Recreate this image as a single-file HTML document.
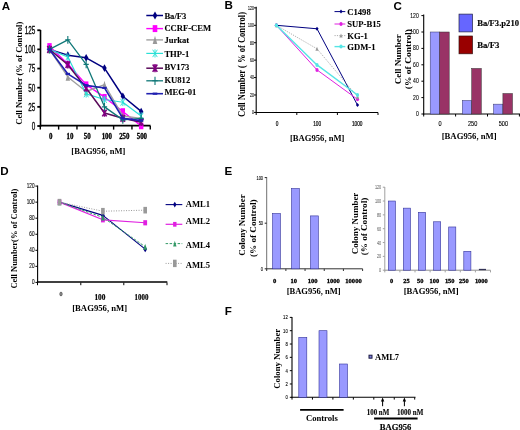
<!DOCTYPE html>
<html><head><meta charset="utf-8"><style>
html,body{margin:0;padding:0;background:#fff;}
svg{display:block;will-change:transform;filter:blur(0.35px);}
</style></head><body>
<svg width="520" height="430" viewBox="0 0 520 430">
<rect width="520" height="430" fill="#fff"/>
<text x="1.8" y="9.8" font-family="'Liberation Sans', sans-serif" font-size="11.6" font-weight="bold" text-anchor="start" fill="#000" >A</text>
<line x1="40.5" y1="30" x2="40.5" y2="127" stroke="#000" stroke-width="1.6" stroke-linecap="butt"/>
<line x1="37.3" y1="126.0" x2="40.5" y2="126.0" stroke="#000" stroke-width="1.8" stroke-linecap="butt"/>
<text x="35.4" y="129.9" font-family="'Liberation Sans', sans-serif" font-size="11.2" font-weight="normal" text-anchor="end" fill="#000" textLength="3.55" lengthAdjust="spacingAndGlyphs"  stroke="#000" stroke-width="0.3">0</text>
<line x1="37.3" y1="106.85" x2="40.5" y2="106.85" stroke="#000" stroke-width="1.8" stroke-linecap="butt"/>
<text x="35.4" y="110.75" font-family="'Liberation Sans', sans-serif" font-size="11.2" font-weight="normal" text-anchor="end" fill="#000" textLength="7.1" lengthAdjust="spacingAndGlyphs"  stroke="#000" stroke-width="0.3">25</text>
<line x1="37.3" y1="87.7" x2="40.5" y2="87.7" stroke="#000" stroke-width="1.8" stroke-linecap="butt"/>
<text x="35.4" y="91.60000000000001" font-family="'Liberation Sans', sans-serif" font-size="11.2" font-weight="normal" text-anchor="end" fill="#000" textLength="7.1" lengthAdjust="spacingAndGlyphs"  stroke="#000" stroke-width="0.3">50</text>
<line x1="37.3" y1="68.55" x2="40.5" y2="68.55" stroke="#000" stroke-width="1.8" stroke-linecap="butt"/>
<text x="35.4" y="72.45" font-family="'Liberation Sans', sans-serif" font-size="11.2" font-weight="normal" text-anchor="end" fill="#000" textLength="7.1" lengthAdjust="spacingAndGlyphs"  stroke="#000" stroke-width="0.3">75</text>
<line x1="37.3" y1="49.400000000000006" x2="40.5" y2="49.400000000000006" stroke="#000" stroke-width="1.8" stroke-linecap="butt"/>
<text x="35.4" y="53.300000000000004" font-family="'Liberation Sans', sans-serif" font-size="11.2" font-weight="normal" text-anchor="end" fill="#000" textLength="10.649999999999999" lengthAdjust="spacingAndGlyphs"  stroke="#000" stroke-width="0.3">100</text>
<line x1="37.3" y1="30.25" x2="40.5" y2="30.25" stroke="#000" stroke-width="1.8" stroke-linecap="butt"/>
<text x="35.4" y="34.15" font-family="'Liberation Sans', sans-serif" font-size="11.2" font-weight="normal" text-anchor="end" fill="#000" textLength="10.649999999999999" lengthAdjust="spacingAndGlyphs"  stroke="#000" stroke-width="0.3">125</text>
<line x1="40" y1="125.7" x2="150.6" y2="125.7" stroke="#000" stroke-width="1.8" stroke-linecap="butt"/>
<line x1="40.3" y1="126.0" x2="40.3" y2="129.6" stroke="#000" stroke-width="1.4" stroke-linecap="butt"/>
<line x1="58.629999999999995" y1="126.0" x2="58.629999999999995" y2="129.6" stroke="#000" stroke-width="1.4" stroke-linecap="butt"/>
<line x1="76.96" y1="126.0" x2="76.96" y2="129.6" stroke="#000" stroke-width="1.4" stroke-linecap="butt"/>
<line x1="95.28999999999999" y1="126.0" x2="95.28999999999999" y2="129.6" stroke="#000" stroke-width="1.4" stroke-linecap="butt"/>
<line x1="113.61999999999999" y1="126.0" x2="113.61999999999999" y2="129.6" stroke="#000" stroke-width="1.4" stroke-linecap="butt"/>
<line x1="131.95" y1="126.0" x2="131.95" y2="129.6" stroke="#000" stroke-width="1.4" stroke-linecap="butt"/>
<line x1="150.27999999999997" y1="126.0" x2="150.27999999999997" y2="129.6" stroke="#000" stroke-width="1.4" stroke-linecap="butt"/>
<text x="50.6" y="138.9" font-family="'Liberation Serif', serif" font-size="7.6" font-weight="bold" text-anchor="middle" fill="#000" textLength="3.45" lengthAdjust="spacingAndGlyphs"  stroke="#000" stroke-width="0.3">0</text>
<text x="70.0" y="138.9" font-family="'Liberation Serif', serif" font-size="7.6" font-weight="bold" text-anchor="middle" fill="#000" textLength="6.9" lengthAdjust="spacingAndGlyphs"  stroke="#000" stroke-width="0.3">10</text>
<text x="87.3" y="138.9" font-family="'Liberation Serif', serif" font-size="7.6" font-weight="bold" text-anchor="middle" fill="#000" textLength="6.9" lengthAdjust="spacingAndGlyphs"  stroke="#000" stroke-width="0.3">50</text>
<text x="106.8" y="138.9" font-family="'Liberation Serif', serif" font-size="7.6" font-weight="bold" text-anchor="middle" fill="#000" textLength="10.350000000000001" lengthAdjust="spacingAndGlyphs"  stroke="#000" stroke-width="0.3">100</text>
<text x="124.3" y="138.9" font-family="'Liberation Serif', serif" font-size="7.6" font-weight="bold" text-anchor="middle" fill="#000" textLength="10.350000000000001" lengthAdjust="spacingAndGlyphs"  stroke="#000" stroke-width="0.3">250</text>
<text x="141.9" y="138.9" font-family="'Liberation Serif', serif" font-size="7.6" font-weight="bold" text-anchor="middle" fill="#000" textLength="10.350000000000001" lengthAdjust="spacingAndGlyphs"  stroke="#000" stroke-width="0.3">500</text>
<text x="98.3" y="154.0" font-family="'Liberation Serif', serif" font-size="8.6" font-weight="bold" text-anchor="middle" fill="#000" textLength="54" lengthAdjust="spacingAndGlyphs" >[BAG956, nM]</text>
<text x="22.2" y="73.2" font-family="'Liberation Serif', serif" font-size="8.7" font-weight="bold" text-anchor="middle" fill="#000" transform="rotate(-90 22.2 73.2)" textLength="103" lengthAdjust="spacingAndGlyphs" >Cell Number (% of Control)</text>
<polyline points="49.50,49.40 67.83,55.14 86.16,57.83 104.49,68.09 122.82,96.28 141.15,111.45" fill="none" stroke="#000080" stroke-width="1.5" stroke-linejoin="round"/>
<path d="M49.5 45.60 L51.70 49.400000000000006 L49.5 53.20 L47.30 49.400000000000006 Z" fill="#000080"/>
<path d="M67.83 51.34 L70.03 55.144999999999996 L67.83 58.94 L65.63 55.144999999999996 Z" fill="#000080"/>
<path d="M86.16 54.03 L88.36 57.82599999999999 L86.16 61.63 L83.96 57.82599999999999 Z" fill="#000080"/>
<path d="M104.49 64.29 L106.69 68.0904 L104.49 71.89 L102.29 68.0904 Z" fill="#000080"/>
<path d="M122.82 92.48 L125.02 96.2792 L122.82 100.08 L120.62 96.2792 Z" fill="#000080"/>
<path d="M141.14999999999998 107.65 L143.35 111.446 L141.14999999999998 115.25 L138.95 111.446 Z" fill="#000080"/>
<polyline points="49.50,46.34 67.83,63.95 86.16,84.64 104.49,97.20 122.82,111.45 141.15,126.00" fill="none" stroke="#FF00FF" stroke-width="1.4" stroke-linejoin="round"/>
<rect x="47.30" y="43.11" width="4.40" height="6.46" fill="#FF00FF"/>
<rect x="65.63" y="60.72" width="4.40" height="6.46" fill="#FF00FF"/>
<rect x="83.96" y="81.41" width="4.40" height="6.46" fill="#FF00FF"/>
<rect x="102.29" y="93.97" width="4.40" height="6.46" fill="#FF00FF"/>
<rect x="120.62" y="108.22" width="4.40" height="6.46" fill="#FF00FF"/>
<rect x="138.95" y="122.77" width="4.40" height="6.46" fill="#FF00FF"/>
<polyline points="49.50,49.40 67.83,76.98 86.16,91.53 104.49,84.64 122.82,116.04 141.15,118.34" fill="none" stroke="#A0A0A0" stroke-width="1.4" stroke-linejoin="round"/>
<path d="M49.5 45.60 L51.70 53.20 L47.30 53.20 Z" fill="#999999"/>
<path d="M67.83 73.18 L70.03 80.78 L65.63 80.78 Z" fill="#999999"/>
<path d="M86.16 87.73 L88.36 95.33 L83.96 95.33 Z" fill="#999999"/>
<path d="M104.49 80.84 L106.69 88.44 L102.29 88.44 Z" fill="#999999"/>
<path d="M122.82 112.24 L125.02 119.84 L120.62 119.84 Z" fill="#999999"/>
<path d="M141.14999999999998 114.54 L143.35 122.14 L138.95 122.14 Z" fill="#999999"/>
<polyline points="49.50,49.40 67.83,57.06 86.16,93.83 104.49,99.50 122.82,102.25 141.15,116.04" fill="none" stroke="#2AE0D6" stroke-width="1.2" stroke-linejoin="round"/>
<path d="M47.30 45.98 L51.70 52.82 M51.70 45.98 L47.30 52.82 M49.5 45.60 L49.5 53.20" stroke="#2AE0D6" stroke-width="0.9" fill="none"/>
<path d="M65.63 53.64 L70.03 60.48 M70.03 53.64 L65.63 60.48 M67.83 53.26 L67.83 60.86" stroke="#2AE0D6" stroke-width="0.9" fill="none"/>
<path d="M83.96 90.41 L88.36 97.25 M88.36 90.41 L83.96 97.25 M86.16 90.03 L86.16 97.63" stroke="#2AE0D6" stroke-width="0.9" fill="none"/>
<path d="M102.29 96.08 L106.69 102.92 M106.69 96.08 L102.29 102.92 M104.49 95.70 L104.49 103.30" stroke="#2AE0D6" stroke-width="0.9" fill="none"/>
<path d="M120.62 98.83 L125.02 105.67 M125.02 98.83 L120.62 105.67 M122.82 98.45 L122.82 106.05" stroke="#2AE0D6" stroke-width="0.9" fill="none"/>
<path d="M138.95 112.62 L143.35 119.46 M143.35 112.62 L138.95 119.46 M141.14999999999998 112.24 L141.14999999999998 119.84" stroke="#2AE0D6" stroke-width="0.9" fill="none"/>
<polyline points="49.50,49.40 67.83,64.72 86.16,88.01 104.49,112.98 122.82,118.34 141.15,122.17" fill="none" stroke="#5A0A5A" stroke-width="1.5" stroke-linejoin="round"/>
<path d="M47.30 45.98 L51.70 52.82 M51.70 45.98 L47.30 52.82 M49.5 45.60 L49.5 53.20" stroke="#800080" stroke-width="1.5" fill="none"/>
<path d="M65.63 61.30 L70.03 68.14 M70.03 61.30 L65.63 68.14 M67.83 60.92 L67.83 68.52" stroke="#800080" stroke-width="1.5" fill="none"/>
<path d="M83.96 84.59 L88.36 91.43 M88.36 84.59 L83.96 91.43 M86.16 84.21 L86.16 91.81" stroke="#800080" stroke-width="1.5" fill="none"/>
<path d="M102.29 109.56 L106.69 116.40 M106.69 109.56 L102.29 116.40 M104.49 109.18 L104.49 116.78" stroke="#800080" stroke-width="1.5" fill="none"/>
<path d="M120.62 114.92 L125.02 121.76 M125.02 114.92 L120.62 121.76 M122.82 114.54 L122.82 122.14" stroke="#800080" stroke-width="1.5" fill="none"/>
<path d="M138.95 118.75 L143.35 125.59 M143.35 118.75 L138.95 125.59 M141.14999999999998 118.37 L141.14999999999998 125.97" stroke="#800080" stroke-width="1.5" fill="none"/>
<polyline points="49.50,49.40 67.83,39.90 86.16,64.34 104.49,106.85 122.82,119.87 141.15,118.34" fill="none" stroke="#107878" stroke-width="1.3" stroke-linejoin="round"/>
<path d="M46.86 49.400000000000006 L52.14 49.400000000000006 M49.5 45.60 L49.5 53.20" stroke="#107878" stroke-width="1.1" fill="none"/>
<path d="M65.19 39.90159999999999 L70.47 39.90159999999999 M67.83 36.10 L67.83 43.70" stroke="#107878" stroke-width="1.1" fill="none"/>
<path d="M83.52 64.33699999999999 L88.80 64.33699999999999 M86.16 60.54 L86.16 68.14" stroke="#107878" stroke-width="1.1" fill="none"/>
<path d="M101.85 106.85 L107.13 106.85 M104.49 103.05 L104.49 110.65" stroke="#107878" stroke-width="1.1" fill="none"/>
<path d="M120.18 119.872 L125.46 119.872 M122.82 116.07 L122.82 123.67" stroke="#107878" stroke-width="1.1" fill="none"/>
<path d="M138.51 118.34 L143.79 118.34 M141.14999999999998 114.54 L141.14999999999998 122.14" stroke="#107878" stroke-width="1.1" fill="none"/>
<polyline points="49.50,49.40 67.83,73.91 86.16,85.40 104.49,87.93 122.82,118.34 141.15,120.64" fill="none" stroke="#2020B0" stroke-width="1.6" stroke-linejoin="round"/>
<path d="M47.30 49.400000000000006 L51.70 49.400000000000006" stroke="#2020B0" stroke-width="2.2" fill="none"/>
<path d="M65.63 73.912 L70.03 73.912" stroke="#2020B0" stroke-width="2.2" fill="none"/>
<path d="M83.96 85.402 L88.36 85.402" stroke="#2020B0" stroke-width="2.2" fill="none"/>
<path d="M102.29 87.9298 L106.69 87.9298" stroke="#2020B0" stroke-width="2.2" fill="none"/>
<path d="M120.62 118.34 L125.02 118.34" stroke="#2020B0" stroke-width="2.2" fill="none"/>
<path d="M138.95 120.638 L143.35 120.638" stroke="#2020B0" stroke-width="2.2" fill="none"/>
<line x1="146.3" y1="15.5" x2="163.0" y2="15.5" stroke="#000080" stroke-width="1.5" stroke-linecap="butt"/>
<path d="M155.0 11.40 L157.30 15.5 L155.0 19.60 L152.70 15.5 Z" fill="#000080"/>
<text x="164.4" y="18.55" font-family="'Liberation Serif', serif" font-size="8.6" font-weight="bold" text-anchor="start" fill="#000"  stroke="#000" stroke-width="0.1">Ba/F3</text>
<line x1="146.3" y1="28.6" x2="163.0" y2="28.6" stroke="#FF00FF" stroke-width="1.4" stroke-linecap="butt"/>
<rect x="152.70" y="25.12" width="4.60" height="6.97" fill="#FF00FF"/>
<text x="164.4" y="31.05" font-family="'Liberation Serif', serif" font-size="8.6" font-weight="bold" text-anchor="start" fill="#000"  stroke="#000" stroke-width="0.1">CCRF-CEM</text>
<line x1="146.3" y1="39.9" x2="163.0" y2="39.9" stroke="#A0A0A0" stroke-width="1.4" stroke-linecap="butt"/>
<path d="M155.0 35.80 L157.30 44.00 L152.70 44.00 Z" fill="#999999"/>
<text x="164.4" y="42.85" font-family="'Liberation Serif', serif" font-size="8.6" font-weight="bold" text-anchor="start" fill="#000"  stroke="#000" stroke-width="0.1">Jurkat</text>
<line x1="146.3" y1="53.4" x2="163.0" y2="53.4" stroke="#2AE0D6" stroke-width="1.2" stroke-linecap="butt"/>
<path d="M152.70 49.71 L157.30 57.09 M157.30 49.71 L152.70 57.09 M155.0 49.30 L155.0 57.50" stroke="#2AE0D6" stroke-width="0.9" fill="none"/>
<text x="164.4" y="56.85" font-family="'Liberation Serif', serif" font-size="8.6" font-weight="bold" text-anchor="start" fill="#000"  stroke="#000" stroke-width="0.1">THP-1</text>
<line x1="146.3" y1="68.2" x2="163.0" y2="68.2" stroke="#5A0A5A" stroke-width="1.5" stroke-linecap="butt"/>
<path d="M152.70 64.51 L157.30 71.89 M157.30 64.51 L152.70 71.89 M155.0 64.10 L155.0 72.30" stroke="#800080" stroke-width="1.5" fill="none"/>
<text x="164.4" y="69.75" font-family="'Liberation Serif', serif" font-size="8.6" font-weight="bold" text-anchor="start" fill="#000"  stroke="#000" stroke-width="0.1">BV173</text>
<line x1="146.3" y1="80.8" x2="163.0" y2="80.8" stroke="#107878" stroke-width="1.3" stroke-linecap="butt"/>
<path d="M152.24 80.8 L157.76 80.8 M155.0 76.70 L155.0 84.90" stroke="#107878" stroke-width="1.1" fill="none"/>
<text x="164.4" y="83.25" font-family="'Liberation Serif', serif" font-size="8.6" font-weight="bold" text-anchor="start" fill="#000"  stroke="#000" stroke-width="0.1">KU812</text>
<line x1="146.3" y1="93.7" x2="163.0" y2="93.7" stroke="#2020B0" stroke-width="1.6" stroke-linecap="butt"/>
<path d="M152.70 93.7 L157.30 93.7" stroke="#2020B0" stroke-width="2.2" fill="none"/>
<text x="164.4" y="94.64999999999999" font-family="'Liberation Serif', serif" font-size="8.6" font-weight="bold" text-anchor="start" fill="#000"  stroke="#000" stroke-width="0.1">MEG-01</text>
<text x="224.4" y="8.9" font-family="'Liberation Sans', sans-serif" font-size="11.6" font-weight="bold" text-anchor="start" fill="#000" >B</text>
<line x1="256.2" y1="6.8" x2="256.2" y2="113.0" stroke="#000" stroke-width="1.1" stroke-linecap="butt"/>
<line x1="254.0" y1="112.4" x2="256.2" y2="112.4" stroke="#000" stroke-width="1" stroke-linecap="butt"/>
<text x="253.8" y="114.2" font-family="'Liberation Sans', sans-serif" font-size="6.2" font-weight="normal" text-anchor="end" fill="#000" textLength="1.9" lengthAdjust="spacingAndGlyphs"  stroke="#000" stroke-width="0.12">0</text>
<line x1="254.0" y1="94.98" x2="256.2" y2="94.98" stroke="#000" stroke-width="1" stroke-linecap="butt"/>
<text x="253.8" y="96.78" font-family="'Liberation Sans', sans-serif" font-size="6.2" font-weight="normal" text-anchor="end" fill="#000" textLength="3.8" lengthAdjust="spacingAndGlyphs"  stroke="#000" stroke-width="0.12">20</text>
<line x1="254.0" y1="77.56" x2="256.2" y2="77.56" stroke="#000" stroke-width="1" stroke-linecap="butt"/>
<text x="253.8" y="79.36" font-family="'Liberation Sans', sans-serif" font-size="6.2" font-weight="normal" text-anchor="end" fill="#000" textLength="3.8" lengthAdjust="spacingAndGlyphs"  stroke="#000" stroke-width="0.12">40</text>
<line x1="254.0" y1="60.14000000000001" x2="256.2" y2="60.14000000000001" stroke="#000" stroke-width="1" stroke-linecap="butt"/>
<text x="253.8" y="61.940000000000005" font-family="'Liberation Sans', sans-serif" font-size="6.2" font-weight="normal" text-anchor="end" fill="#000" textLength="3.8" lengthAdjust="spacingAndGlyphs"  stroke="#000" stroke-width="0.12">60</text>
<line x1="254.0" y1="42.72" x2="256.2" y2="42.72" stroke="#000" stroke-width="1" stroke-linecap="butt"/>
<text x="253.8" y="44.519999999999996" font-family="'Liberation Sans', sans-serif" font-size="6.2" font-weight="normal" text-anchor="end" fill="#000" textLength="3.8" lengthAdjust="spacingAndGlyphs"  stroke="#000" stroke-width="0.12">80</text>
<line x1="254.0" y1="25.30000000000001" x2="256.2" y2="25.30000000000001" stroke="#000" stroke-width="1" stroke-linecap="butt"/>
<text x="253.8" y="27.100000000000012" font-family="'Liberation Sans', sans-serif" font-size="6.2" font-weight="normal" text-anchor="end" fill="#000" textLength="5.699999999999999" lengthAdjust="spacingAndGlyphs"  stroke="#000" stroke-width="0.12">100</text>
<line x1="254.0" y1="7.88000000000001" x2="256.2" y2="7.88000000000001" stroke="#000" stroke-width="1" stroke-linecap="butt"/>
<text x="253.8" y="9.68000000000001" font-family="'Liberation Sans', sans-serif" font-size="6.2" font-weight="normal" text-anchor="end" fill="#000" textLength="5.699999999999999" lengthAdjust="spacingAndGlyphs"  stroke="#000" stroke-width="0.12">120</text>
<line x1="255.7" y1="112.5" x2="378.0" y2="112.5" stroke="#000" stroke-width="1.1" stroke-linecap="butt"/>
<line x1="256.2" y1="112.5" x2="256.2" y2="115.0" stroke="#000" stroke-width="1" stroke-linecap="butt"/>
<line x1="296.8" y1="112.5" x2="296.8" y2="115.0" stroke="#000" stroke-width="1" stroke-linecap="butt"/>
<line x1="337.4" y1="112.5" x2="337.4" y2="115.0" stroke="#000" stroke-width="1" stroke-linecap="butt"/>
<line x1="378.0" y1="112.5" x2="378.0" y2="115.0" stroke="#000" stroke-width="1" stroke-linecap="butt"/>
<text x="277.0" y="126.3" font-family="'Liberation Sans', sans-serif" font-size="6.8" font-weight="normal" text-anchor="middle" fill="#000" textLength="2.65" lengthAdjust="spacingAndGlyphs"  stroke="#000" stroke-width="0.2">0</text>
<text x="317.1" y="126.3" font-family="'Liberation Sans', sans-serif" font-size="6.8" font-weight="normal" text-anchor="middle" fill="#000" textLength="7.949999999999999" lengthAdjust="spacingAndGlyphs"  stroke="#000" stroke-width="0.2">100</text>
<text x="357.2" y="126.3" font-family="'Liberation Sans', sans-serif" font-size="6.8" font-weight="normal" text-anchor="middle" fill="#000" textLength="10.6" lengthAdjust="spacingAndGlyphs"  stroke="#000" stroke-width="0.2">1000</text>
<text x="317.25" y="140.9" font-family="'Liberation Serif', serif" font-size="8.6" font-weight="bold" text-anchor="middle" fill="#000" textLength="54.5" lengthAdjust="spacingAndGlyphs" >[BAG956, nM]</text>
<text x="245.2" y="64.5" font-family="'Liberation Serif', serif" font-size="9.4" font-weight="bold" text-anchor="middle" fill="#000" transform="rotate(-90 245.2 64.5)" textLength="105" lengthAdjust="spacingAndGlyphs" >Cell Number ( % of Control)</text>
<polyline points="276.40,25.30 317.00,28.78 357.50,105.08" fill="none" stroke="#000080" stroke-width="1.0" stroke-linejoin="round"/>
<path d="M276.4 23.30 L278.00 25.30000000000001 L276.4 27.30 L274.80 25.30000000000001 Z" fill="#000080"/>
<path d="M317.0 26.78 L318.60 28.784000000000006 L317.0 30.78 L315.40 28.784000000000006 Z" fill="#000080"/>
<path d="M357.5 103.08 L359.10 105.0836 L357.5 107.08 L355.90 105.0836 Z" fill="#000080"/>
<polyline points="276.40,25.30 317.00,69.90 357.50,99.34" fill="none" stroke="#E020E0" stroke-width="1.0" stroke-linejoin="round"/>
<ellipse cx="276.4" cy="25.30000000000001" rx="1.6" ry="2.0" fill="#E020E0"/>
<ellipse cx="317.0" cy="69.89520000000002" rx="1.6" ry="2.0" fill="#E020E0"/>
<ellipse cx="357.5" cy="99.33500000000001" rx="1.6" ry="2.0" fill="#E020E0"/>
<polyline points="276.40,25.30 317.00,48.82 357.50,96.72" fill="none" stroke="#999999" stroke-width="0.8" stroke-linejoin="round" stroke-dasharray="1.2,1.2"/>
<path d="M276.4 23.30 L278.00 27.30 L274.80 27.30 Z" fill="#999999"/>
<path d="M317.0 46.82 L318.60 50.82 L315.40 50.82 Z" fill="#999999"/>
<path d="M357.5 94.72 L359.10 98.72 L355.90 98.72 Z" fill="#999999"/>
<polyline points="276.40,25.30 317.00,64.93 357.50,94.98" fill="none" stroke="#55E5E5" stroke-width="1.4" stroke-linejoin="round"/>
<ellipse cx="276.4" cy="25.30000000000001" rx="1.6" ry="2.0" fill="#55E5E5"/>
<ellipse cx="317.0" cy="64.93050000000001" rx="1.6" ry="2.0" fill="#55E5E5"/>
<ellipse cx="357.5" cy="94.98" rx="1.6" ry="2.0" fill="#55E5E5"/>
<line x1="334.5" y1="11.6" x2="345.3" y2="11.6" stroke="#000080" stroke-width="1.0" stroke-linecap="butt"/>
<path d="M341.0 9.60 L342.60 11.6 L341.0 13.60 L339.40 11.6 Z" fill="#000080"/>
<text x="347.3" y="14.6" font-family="'Liberation Serif', serif" font-size="8.6" font-weight="bold" text-anchor="start" fill="#000"  stroke="#000" stroke-width="0.1">C1498</text>
<line x1="334.5" y1="24.0" x2="345.3" y2="24.0" stroke="#E020E0" stroke-width="1.0" stroke-linecap="butt"/>
<ellipse cx="341.0" cy="24.0" rx="1.6" ry="2.0" fill="#E020E0"/>
<text x="347.3" y="27.0" font-family="'Liberation Serif', serif" font-size="8.6" font-weight="bold" text-anchor="start" fill="#000"  stroke="#000" stroke-width="0.1">SUP-B15</text>
<line x1="334.5" y1="35.6" x2="345.3" y2="35.6" stroke="#999999" stroke-width="0.8" stroke-dasharray="1.2,1.2" stroke-linecap="butt"/>
<path d="M341.0 33.60 L342.60 37.60 L339.40 37.60 Z" fill="#999999"/>
<text x="347.3" y="38.6" font-family="'Liberation Serif', serif" font-size="8.6" font-weight="bold" text-anchor="start" fill="#000"  stroke="#000" stroke-width="0.1">KG-1</text>
<line x1="334.5" y1="46.6" x2="345.3" y2="46.6" stroke="#55E5E5" stroke-width="1.4" stroke-linecap="butt"/>
<ellipse cx="341.0" cy="46.6" rx="1.6" ry="2.0" fill="#55E5E5"/>
<text x="347.3" y="49.6" font-family="'Liberation Serif', serif" font-size="8.6" font-weight="bold" text-anchor="start" fill="#000"  stroke="#000" stroke-width="0.1">GDM-1</text>
<text x="393.6" y="9.7" font-family="'Liberation Sans', sans-serif" font-size="11.6" font-weight="bold" text-anchor="start" fill="#000" >C</text>
<line x1="423.7" y1="14.5" x2="423.7" y2="114.5" stroke="#000" stroke-width="1.1" stroke-linecap="butt"/>
<line x1="421.4" y1="114.0" x2="423.7" y2="114.0" stroke="#000" stroke-width="1" stroke-linecap="butt"/>
<text x="418.7" y="116.0" font-family="'Liberation Sans', sans-serif" font-size="6.5" font-weight="normal" text-anchor="end" fill="#000" textLength="2.8" lengthAdjust="spacingAndGlyphs"  stroke="#000" stroke-width="0.1">0</text>
<line x1="421.4" y1="97.6" x2="423.7" y2="97.6" stroke="#000" stroke-width="1" stroke-linecap="butt"/>
<text x="418.7" y="99.6" font-family="'Liberation Sans', sans-serif" font-size="6.5" font-weight="normal" text-anchor="end" fill="#000" textLength="5.6" lengthAdjust="spacingAndGlyphs"  stroke="#000" stroke-width="0.1">20</text>
<line x1="421.4" y1="81.2" x2="423.7" y2="81.2" stroke="#000" stroke-width="1" stroke-linecap="butt"/>
<text x="418.7" y="83.2" font-family="'Liberation Sans', sans-serif" font-size="6.5" font-weight="normal" text-anchor="end" fill="#000" textLength="5.6" lengthAdjust="spacingAndGlyphs"  stroke="#000" stroke-width="0.1">40</text>
<line x1="421.4" y1="64.80000000000001" x2="423.7" y2="64.80000000000001" stroke="#000" stroke-width="1" stroke-linecap="butt"/>
<text x="418.7" y="66.80000000000001" font-family="'Liberation Sans', sans-serif" font-size="6.5" font-weight="normal" text-anchor="end" fill="#000" textLength="5.6" lengthAdjust="spacingAndGlyphs"  stroke="#000" stroke-width="0.1">60</text>
<line x1="421.4" y1="48.400000000000006" x2="423.7" y2="48.400000000000006" stroke="#000" stroke-width="1" stroke-linecap="butt"/>
<text x="418.7" y="50.400000000000006" font-family="'Liberation Sans', sans-serif" font-size="6.5" font-weight="normal" text-anchor="end" fill="#000" textLength="5.6" lengthAdjust="spacingAndGlyphs"  stroke="#000" stroke-width="0.1">80</text>
<line x1="421.4" y1="32.0" x2="423.7" y2="32.0" stroke="#000" stroke-width="1" stroke-linecap="butt"/>
<text x="418.7" y="34.0" font-family="'Liberation Sans', sans-serif" font-size="6.5" font-weight="normal" text-anchor="end" fill="#000" textLength="8.399999999999999" lengthAdjust="spacingAndGlyphs"  stroke="#000" stroke-width="0.1">100</text>
<line x1="421.4" y1="15.600000000000009" x2="423.7" y2="15.600000000000009" stroke="#000" stroke-width="1" stroke-linecap="butt"/>
<text x="418.7" y="17.60000000000001" font-family="'Liberation Sans', sans-serif" font-size="6.5" font-weight="normal" text-anchor="end" fill="#000" textLength="8.399999999999999" lengthAdjust="spacingAndGlyphs"  stroke="#000" stroke-width="0.1">120</text>
<line x1="423" y1="114.0" x2="520" y2="114.0" stroke="#000" stroke-width="1.1" stroke-linecap="butt"/>
<line x1="423.7" y1="114" x2="423.7" y2="116.5" stroke="#000" stroke-width="1" stroke-linecap="butt"/>
<line x1="455.59999999999997" y1="114" x2="455.59999999999997" y2="116.5" stroke="#000" stroke-width="1" stroke-linecap="butt"/>
<line x1="487.5" y1="114" x2="487.5" y2="116.5" stroke="#000" stroke-width="1" stroke-linecap="butt"/>
<line x1="519.4" y1="114" x2="519.4" y2="116.5" stroke="#000" stroke-width="1" stroke-linecap="butt"/>
<rect x="430.20" y="32.00" width="9.40" height="82.00" fill="#9999FF" stroke="#333366" stroke-width="0.5"/>
<rect x="439.60" y="32.00" width="9.60" height="82.00" fill="#993366" stroke="#333333" stroke-width="0.5"/>
<rect x="462.30" y="100.47" width="9.40" height="13.53" fill="#9999FF" stroke="#333366" stroke-width="0.5"/>
<rect x="471.70" y="68.41" width="9.60" height="45.59" fill="#993366" stroke="#333333" stroke-width="0.5"/>
<rect x="493.50" y="104.16" width="9.40" height="9.84" fill="#9999FF" stroke="#333366" stroke-width="0.5"/>
<rect x="502.90" y="93.50" width="9.60" height="20.50" fill="#993366" stroke="#333333" stroke-width="0.5"/>
<text x="440.0" y="126.0" font-family="'Liberation Sans', sans-serif" font-size="6.9" font-weight="normal" text-anchor="middle" fill="#000" textLength="3.1" lengthAdjust="spacingAndGlyphs"  stroke="#000" stroke-width="0.12">0</text>
<text x="472.6" y="126.0" font-family="'Liberation Sans', sans-serif" font-size="6.9" font-weight="normal" text-anchor="middle" fill="#000" textLength="9.3" lengthAdjust="spacingAndGlyphs"  stroke="#000" stroke-width="0.12">250</text>
<text x="503.4" y="126.0" font-family="'Liberation Sans', sans-serif" font-size="6.9" font-weight="normal" text-anchor="middle" fill="#000" textLength="9.3" lengthAdjust="spacingAndGlyphs"  stroke="#000" stroke-width="0.12">500</text>
<text x="469.2" y="138.6" font-family="'Liberation Serif', serif" font-size="8.8" font-weight="bold" text-anchor="middle" fill="#000" textLength="55" lengthAdjust="spacingAndGlyphs" >[BAG956, nM]</text>
<text x="400.6" y="59.2" font-family="'Liberation Serif', serif" font-size="8.8" font-weight="bold" text-anchor="middle" fill="#000" transform="rotate(-90 400.6 59.2)" textLength="50" lengthAdjust="spacingAndGlyphs" >Cell Number</text>
<text x="411.0" y="59.2" font-family="'Liberation Serif', serif" font-size="8.8" font-weight="bold" text-anchor="middle" fill="#000" transform="rotate(-90 411.0 59.2)" textLength="60" lengthAdjust="spacingAndGlyphs" >(% of Control)</text>
<rect x="459.00" y="14.10" width="13.50" height="17.80" fill="#6666FF" stroke="#222244" stroke-width="0.7"/>
<rect x="459.00" y="36.00" width="13.50" height="17.80" fill="#990000" stroke="#331111" stroke-width="0.7"/>
<text x="477.2" y="26.0" font-family="'Liberation Serif', serif" font-size="8.8" font-weight="bold" text-anchor="start" fill="#000" textLength="41.8" lengthAdjust="spacingAndGlyphs"  stroke="#000" stroke-width="0.15">Ba/F3.p210</text>
<text x="477.2" y="47.6" font-family="'Liberation Serif', serif" font-size="8.8" font-weight="bold" text-anchor="start" fill="#000" textLength="22.3" lengthAdjust="spacingAndGlyphs"  stroke="#000" stroke-width="0.15">Ba/F3</text>
<text x="0.2" y="174.6" font-family="'Liberation Sans', sans-serif" font-size="11.6" font-weight="bold" text-anchor="start" fill="#000" >D</text>
<line x1="37.6" y1="185.5" x2="37.6" y2="283" stroke="#000" stroke-width="1.1" stroke-linecap="butt"/>
<line x1="35.4" y1="282.4" x2="37.6" y2="282.4" stroke="#000" stroke-width="1" stroke-linecap="butt"/>
<text x="34.5" y="284.4" font-family="'Liberation Sans', sans-serif" font-size="7.5" font-weight="normal" text-anchor="end" fill="#000" textLength="2.6" lengthAdjust="spacingAndGlyphs"  stroke="#000" stroke-width="0.12">0</text>
<line x1="35.4" y1="266.34999999999997" x2="37.6" y2="266.34999999999997" stroke="#000" stroke-width="1" stroke-linecap="butt"/>
<text x="34.5" y="268.34999999999997" font-family="'Liberation Sans', sans-serif" font-size="7.5" font-weight="normal" text-anchor="end" fill="#000" textLength="5.2" lengthAdjust="spacingAndGlyphs"  stroke="#000" stroke-width="0.12">20</text>
<line x1="35.4" y1="250.29999999999998" x2="37.6" y2="250.29999999999998" stroke="#000" stroke-width="1" stroke-linecap="butt"/>
<text x="34.5" y="252.29999999999998" font-family="'Liberation Sans', sans-serif" font-size="7.5" font-weight="normal" text-anchor="end" fill="#000" textLength="5.2" lengthAdjust="spacingAndGlyphs"  stroke="#000" stroke-width="0.12">40</text>
<line x1="35.4" y1="234.24999999999997" x2="37.6" y2="234.24999999999997" stroke="#000" stroke-width="1" stroke-linecap="butt"/>
<text x="34.5" y="236.24999999999997" font-family="'Liberation Sans', sans-serif" font-size="7.5" font-weight="normal" text-anchor="end" fill="#000" textLength="5.2" lengthAdjust="spacingAndGlyphs"  stroke="#000" stroke-width="0.12">60</text>
<line x1="35.4" y1="218.2" x2="37.6" y2="218.2" stroke="#000" stroke-width="1" stroke-linecap="butt"/>
<text x="34.5" y="220.2" font-family="'Liberation Sans', sans-serif" font-size="7.5" font-weight="normal" text-anchor="end" fill="#000" textLength="5.2" lengthAdjust="spacingAndGlyphs"  stroke="#000" stroke-width="0.12">80</text>
<line x1="35.4" y1="202.14999999999998" x2="37.6" y2="202.14999999999998" stroke="#000" stroke-width="1" stroke-linecap="butt"/>
<text x="34.5" y="204.14999999999998" font-family="'Liberation Sans', sans-serif" font-size="7.5" font-weight="normal" text-anchor="end" fill="#000" textLength="7.800000000000001" lengthAdjust="spacingAndGlyphs"  stroke="#000" stroke-width="0.12">100</text>
<line x1="35.4" y1="186.09999999999997" x2="37.6" y2="186.09999999999997" stroke="#000" stroke-width="1" stroke-linecap="butt"/>
<text x="34.5" y="188.09999999999997" font-family="'Liberation Sans', sans-serif" font-size="7.5" font-weight="normal" text-anchor="end" fill="#000" textLength="7.800000000000001" lengthAdjust="spacingAndGlyphs"  stroke="#000" stroke-width="0.12">120</text>
<line x1="37" y1="282.1" x2="167.3" y2="282.1" stroke="#000" stroke-width="1.5" stroke-linecap="butt"/>
<line x1="37.5" y1="282.6" x2="37.5" y2="285.2" stroke="#000" stroke-width="1" stroke-linecap="butt"/>
<line x1="80.8" y1="282.6" x2="80.8" y2="285.2" stroke="#000" stroke-width="1" stroke-linecap="butt"/>
<line x1="123.8" y1="282.6" x2="123.8" y2="285.2" stroke="#000" stroke-width="1" stroke-linecap="butt"/>
<line x1="167.0" y1="282.6" x2="167.0" y2="285.2" stroke="#000" stroke-width="1" stroke-linecap="butt"/>
<text x="60.9" y="295.6" font-family="'Liberation Serif', serif" font-size="5.2" font-weight="bold" text-anchor="middle" fill="#555" textLength="3.0" lengthAdjust="spacingAndGlyphs"  stroke="#555" stroke-width="0.3">0</text>
<text x="99.9" y="299.9" font-family="'Liberation Serif', serif" font-size="7.2" font-weight="bold" text-anchor="middle" fill="#000" textLength="11" lengthAdjust="spacingAndGlyphs"  stroke="#000" stroke-width="0.2">100</text>
<text x="141.5" y="299.9" font-family="'Liberation Serif', serif" font-size="7.2" font-weight="bold" text-anchor="middle" fill="#000" textLength="13.8" lengthAdjust="spacingAndGlyphs"  stroke="#000" stroke-width="0.2">1000</text>
<text x="99.7" y="311.0" font-family="'Liberation Serif', serif" font-size="8.6" font-weight="bold" text-anchor="middle" fill="#000" textLength="55" lengthAdjust="spacingAndGlyphs" >[BAG956, nM]</text>
<text x="17.0" y="238.6" font-family="'Liberation Serif', serif" font-size="8.8" font-weight="bold" text-anchor="middle" fill="#000" transform="rotate(-90 17.0 238.6)" textLength="100" lengthAdjust="spacingAndGlyphs" >Cell Number(% of Control)</text>
<polyline points="59.50,202.15 102.90,215.39 145.20,249.18" fill="none" stroke="#000080" stroke-width="1.1" stroke-linejoin="round"/>
<path d="M59.5 199.11 L61.40 202.14999999999998 L59.5 205.19 L57.60 202.14999999999998 Z" fill="#000080"/>
<path d="M102.9 212.35 L104.80 215.39124999999996 L102.9 218.43 L101.00 215.39124999999996 Z" fill="#000080"/>
<path d="M145.2 246.14 L147.10 249.17649999999998 L145.2 252.22 L143.30 249.17649999999998 Z" fill="#000080"/>
<polyline points="59.50,202.15 102.90,219.80 145.20,222.77" fill="none" stroke="#E020E0" stroke-width="1.2" stroke-linejoin="round"/>
<rect x="57.60" y="199.57" width="3.80" height="5.17" fill="#E020E0"/>
<rect x="101.00" y="217.22" width="3.80" height="5.17" fill="#E020E0"/>
<rect x="143.30" y="220.19" width="3.80" height="5.17" fill="#E020E0"/>
<polyline points="59.50,202.15 102.90,217.40 145.20,246.69" fill="none" stroke="#339966" stroke-width="1.0" stroke-linejoin="round" stroke-dasharray="2.5,1.5"/>
<path d="M59.5 199.11 L61.40 205.19 L57.60 205.19 Z" fill="#339966"/>
<path d="M102.9 214.36 L104.80 220.44 L101.00 220.44 Z" fill="#339966"/>
<path d="M145.2 243.65 L147.10 249.73 L143.30 249.73 Z" fill="#339966"/>
<polyline points="59.50,202.15 102.90,211.22 145.20,210.17" fill="none" stroke="#999999" stroke-width="1.0" stroke-linejoin="round" stroke-dasharray="1,1.5"/>
<rect x="57.70" y="198.85" width="3.60" height="6.60" fill="#999999"/>
<rect x="101.10" y="207.92" width="3.60" height="6.60" fill="#999999"/>
<rect x="143.40" y="206.87" width="3.60" height="6.60" fill="#999999"/>
<line x1="165.6" y1="204.6" x2="182.3" y2="204.6" stroke="#000080" stroke-width="1.1" stroke-linecap="butt"/>
<path d="M174.8 201.80 L176.50 204.6 L174.8 207.40 L173.10 204.6 Z" fill="#000080"/>
<text x="185.7" y="206.9" font-family="'Liberation Serif', serif" font-size="8.3" font-weight="bold" text-anchor="start" fill="#000" textLength="24.3" lengthAdjust="spacingAndGlyphs" >AML1</text>
<line x1="165.6" y1="224.3" x2="182.3" y2="224.3" stroke="#E020E0" stroke-width="1.2" stroke-linecap="butt"/>
<rect x="173.10" y="221.92" width="3.40" height="4.76" fill="#E020E0"/>
<text x="185.7" y="224.0" font-family="'Liberation Serif', serif" font-size="8.3" font-weight="bold" text-anchor="start" fill="#000" textLength="24.3" lengthAdjust="spacingAndGlyphs" >AML2</text>
<line x1="165.6" y1="243.6" x2="182.3" y2="243.6" stroke="#339966" stroke-width="1.0" stroke-dasharray="2.5,1.5" stroke-linecap="butt"/>
<path d="M174.8 240.80 L176.50 246.40 L173.10 246.40 Z" fill="#339966"/>
<text x="185.7" y="247.6" font-family="'Liberation Serif', serif" font-size="8.3" font-weight="bold" text-anchor="start" fill="#000" textLength="24.3" lengthAdjust="spacingAndGlyphs" >AML4</text>
<line x1="165.6" y1="263.4" x2="182.3" y2="263.4" stroke="#999999" stroke-width="1.0" stroke-dasharray="1,1.5" stroke-linecap="butt"/>
<rect x="173.00" y="259.70" width="3.60" height="7.40" fill="#999999"/>
<text x="185.7" y="267.6" font-family="'Liberation Serif', serif" font-size="8.3" font-weight="bold" text-anchor="start" fill="#000" textLength="24.3" lengthAdjust="spacingAndGlyphs" >AML5</text>
<text x="224.4" y="174.9" font-family="'Liberation Sans', sans-serif" font-size="11.6" font-weight="bold" text-anchor="start" fill="#000" >E</text>
<line x1="266.7" y1="177" x2="266.7" y2="269.3" stroke="#707070" stroke-width="1" stroke-linecap="butt"/>
<line x1="264.7" y1="268.8" x2="266.7" y2="268.8" stroke="#222" stroke-width="1" stroke-linecap="butt"/>
<text x="263.1" y="270.8" font-family="'Liberation Sans', sans-serif" font-size="6.0" font-weight="normal" text-anchor="end" fill="#000" textLength="2.23" lengthAdjust="spacingAndGlyphs"  stroke="#000" stroke-width="0.1">0</text>
<line x1="264.7" y1="223.20000000000002" x2="266.7" y2="223.20000000000002" stroke="#222" stroke-width="1" stroke-linecap="butt"/>
<text x="263.1" y="225.20000000000002" font-family="'Liberation Sans', sans-serif" font-size="6.0" font-weight="normal" text-anchor="end" fill="#000" textLength="4.46" lengthAdjust="spacingAndGlyphs"  stroke="#000" stroke-width="0.1">50</text>
<line x1="264.7" y1="177.60000000000002" x2="266.7" y2="177.60000000000002" stroke="#222" stroke-width="1" stroke-linecap="butt"/>
<text x="263.1" y="179.60000000000002" font-family="'Liberation Sans', sans-serif" font-size="6.0" font-weight="normal" text-anchor="end" fill="#000" textLength="6.6899999999999995" lengthAdjust="spacingAndGlyphs"  stroke="#000" stroke-width="0.1">100</text>
<line x1="266.5" y1="268.8" x2="362.6" y2="268.8" stroke="#333" stroke-width="1" stroke-linecap="butt"/>
<line x1="266.7" y1="268.8" x2="266.7" y2="271.0" stroke="#333" stroke-width="1" stroke-linecap="butt"/>
<line x1="285.88" y1="268.8" x2="285.88" y2="271.0" stroke="#333" stroke-width="1" stroke-linecap="butt"/>
<line x1="305.06" y1="268.8" x2="305.06" y2="271.0" stroke="#333" stroke-width="1" stroke-linecap="butt"/>
<line x1="324.24" y1="268.8" x2="324.24" y2="271.0" stroke="#333" stroke-width="1" stroke-linecap="butt"/>
<line x1="343.41999999999996" y1="268.8" x2="343.41999999999996" y2="271.0" stroke="#333" stroke-width="1" stroke-linecap="butt"/>
<line x1="362.6" y1="268.8" x2="362.6" y2="271.0" stroke="#333" stroke-width="1" stroke-linecap="butt"/>
<rect x="272.60" y="213.53" width="7.80" height="55.27" fill="#9999FF" stroke="#333399" stroke-width="0.6"/>
<rect x="291.50" y="188.54" width="7.80" height="80.26" fill="#9999FF" stroke="#333399" stroke-width="0.6"/>
<rect x="310.50" y="215.90" width="7.80" height="52.90" fill="#9999FF" stroke="#333399" stroke-width="0.6"/>
<text x="274.6" y="283.3" font-family="'Liberation Serif', serif" font-size="6.8" font-weight="bold" text-anchor="middle" fill="#000" textLength="3.3" lengthAdjust="spacingAndGlyphs"  stroke="#000" stroke-width="0.3">0</text>
<text x="293.8" y="283.3" font-family="'Liberation Serif', serif" font-size="6.8" font-weight="bold" text-anchor="middle" fill="#000" textLength="6.6" lengthAdjust="spacingAndGlyphs"  stroke="#000" stroke-width="0.3">10</text>
<text x="312.6" y="283.3" font-family="'Liberation Serif', serif" font-size="6.8" font-weight="bold" text-anchor="middle" fill="#000" textLength="9.899999999999999" lengthAdjust="spacingAndGlyphs"  stroke="#000" stroke-width="0.3">100</text>
<text x="333.3" y="283.3" font-family="'Liberation Serif', serif" font-size="6.8" font-weight="bold" text-anchor="middle" fill="#000" textLength="13.2" lengthAdjust="spacingAndGlyphs"  stroke="#000" stroke-width="0.3">1000</text>
<text x="353.5" y="283.3" font-family="'Liberation Serif', serif" font-size="6.8" font-weight="bold" text-anchor="middle" fill="#000" textLength="16.5" lengthAdjust="spacingAndGlyphs"  stroke="#000" stroke-width="0.3">10000</text>
<text x="313.7" y="293.8" font-family="'Liberation Serif', serif" font-size="8.6" font-weight="bold" text-anchor="middle" fill="#000" textLength="54" lengthAdjust="spacingAndGlyphs" >[BAG956, nM]</text>
<text x="245.4" y="225.0" font-family="'Liberation Serif', serif" font-size="8.8" font-weight="bold" text-anchor="middle" fill="#000" transform="rotate(-90 245.4 225.0)" textLength="61.4" lengthAdjust="spacingAndGlyphs" >Colony Number</text>
<text x="255.7" y="228.2" font-family="'Liberation Serif', serif" font-size="8.8" font-weight="bold" text-anchor="middle" fill="#000" transform="rotate(-90 255.7 228.2)" textLength="57.6" lengthAdjust="spacingAndGlyphs" >(% of Control)</text>
<line x1="384.8" y1="187" x2="384.8" y2="270.7" stroke="#A0A0A0" stroke-width="1" stroke-linecap="butt"/>
<line x1="382.8" y1="270.2" x2="384.8" y2="270.2" stroke="#A0A0A0" stroke-width="1" stroke-linecap="butt"/>
<text x="381.2" y="272.2" font-family="'Liberation Sans', sans-serif" font-size="6.0" font-weight="normal" text-anchor="end" fill="#555" textLength="2.1" lengthAdjust="spacingAndGlyphs" >0</text>
<line x1="382.8" y1="256.366" x2="384.8" y2="256.366" stroke="#A0A0A0" stroke-width="1" stroke-linecap="butt"/>
<text x="381.2" y="258.366" font-family="'Liberation Sans', sans-serif" font-size="6.0" font-weight="normal" text-anchor="end" fill="#555" textLength="4.2" lengthAdjust="spacingAndGlyphs" >20</text>
<line x1="382.8" y1="242.53199999999998" x2="384.8" y2="242.53199999999998" stroke="#A0A0A0" stroke-width="1" stroke-linecap="butt"/>
<text x="381.2" y="244.53199999999998" font-family="'Liberation Sans', sans-serif" font-size="6.0" font-weight="normal" text-anchor="end" fill="#555" textLength="4.2" lengthAdjust="spacingAndGlyphs" >40</text>
<line x1="382.8" y1="228.69799999999998" x2="384.8" y2="228.69799999999998" stroke="#A0A0A0" stroke-width="1" stroke-linecap="butt"/>
<text x="381.2" y="230.69799999999998" font-family="'Liberation Sans', sans-serif" font-size="6.0" font-weight="normal" text-anchor="end" fill="#555" textLength="4.2" lengthAdjust="spacingAndGlyphs" >60</text>
<line x1="382.8" y1="214.86399999999998" x2="384.8" y2="214.86399999999998" stroke="#A0A0A0" stroke-width="1" stroke-linecap="butt"/>
<text x="381.2" y="216.86399999999998" font-family="'Liberation Sans', sans-serif" font-size="6.0" font-weight="normal" text-anchor="end" fill="#555" textLength="4.2" lengthAdjust="spacingAndGlyphs" >80</text>
<line x1="382.8" y1="201.02999999999997" x2="384.8" y2="201.02999999999997" stroke="#A0A0A0" stroke-width="1" stroke-linecap="butt"/>
<text x="381.2" y="203.02999999999997" font-family="'Liberation Sans', sans-serif" font-size="6.0" font-weight="normal" text-anchor="end" fill="#555" textLength="6.300000000000001" lengthAdjust="spacingAndGlyphs" >100</text>
<line x1="382.8" y1="187.196" x2="384.8" y2="187.196" stroke="#A0A0A0" stroke-width="1" stroke-linecap="butt"/>
<text x="381.2" y="189.196" font-family="'Liberation Sans', sans-serif" font-size="6.0" font-weight="normal" text-anchor="end" fill="#555" textLength="6.300000000000001" lengthAdjust="spacingAndGlyphs" >120</text>
<line x1="384.5" y1="270.2" x2="490.5" y2="270.2" stroke="#909090" stroke-width="1" stroke-linecap="butt"/>
<line x1="384.8" y1="270.2" x2="384.8" y2="272.4" stroke="#A0A0A0" stroke-width="1" stroke-linecap="butt"/>
<line x1="399.90000000000003" y1="270.2" x2="399.90000000000003" y2="272.4" stroke="#A0A0A0" stroke-width="1" stroke-linecap="butt"/>
<line x1="415.0" y1="270.2" x2="415.0" y2="272.4" stroke="#A0A0A0" stroke-width="1" stroke-linecap="butt"/>
<line x1="430.1" y1="270.2" x2="430.1" y2="272.4" stroke="#A0A0A0" stroke-width="1" stroke-linecap="butt"/>
<line x1="445.2" y1="270.2" x2="445.2" y2="272.4" stroke="#A0A0A0" stroke-width="1" stroke-linecap="butt"/>
<line x1="460.3" y1="270.2" x2="460.3" y2="272.4" stroke="#A0A0A0" stroke-width="1" stroke-linecap="butt"/>
<line x1="475.4" y1="270.2" x2="475.4" y2="272.4" stroke="#A0A0A0" stroke-width="1" stroke-linecap="butt"/>
<line x1="490.5" y1="270.2" x2="490.5" y2="272.4" stroke="#A0A0A0" stroke-width="1" stroke-linecap="butt"/>
<rect x="388.30" y="201.03" width="7.10" height="69.17" fill="#9999FF" stroke="#333399" stroke-width="0.6"/>
<rect x="403.40" y="208.15" width="7.10" height="62.05" fill="#9999FF" stroke="#333399" stroke-width="0.6"/>
<rect x="418.50" y="212.37" width="7.10" height="57.83" fill="#9999FF" stroke="#333399" stroke-width="0.6"/>
<rect x="433.60" y="221.78" width="7.10" height="48.42" fill="#9999FF" stroke="#333399" stroke-width="0.6"/>
<rect x="448.70" y="226.97" width="7.10" height="43.23" fill="#9999FF" stroke="#333399" stroke-width="0.6"/>
<rect x="463.80" y="251.32" width="7.10" height="18.88" fill="#9999FF" stroke="#333399" stroke-width="0.6"/>
<rect x="478.90" y="268.86" width="7.10" height="1.34" fill="#333355"/>
<text x="391.5" y="283.3" font-family="'Liberation Serif', serif" font-size="6.8" font-weight="bold" text-anchor="middle" fill="#000" textLength="3.2" lengthAdjust="spacingAndGlyphs"  stroke="#000" stroke-width="0.3">0</text>
<text x="406.5" y="283.3" font-family="'Liberation Serif', serif" font-size="6.8" font-weight="bold" text-anchor="middle" fill="#000" textLength="6.4" lengthAdjust="spacingAndGlyphs"  stroke="#000" stroke-width="0.3">25</text>
<text x="420.3" y="283.3" font-family="'Liberation Serif', serif" font-size="6.8" font-weight="bold" text-anchor="middle" fill="#000" textLength="6.4" lengthAdjust="spacingAndGlyphs"  stroke="#000" stroke-width="0.3">50</text>
<text x="434.4" y="283.3" font-family="'Liberation Serif', serif" font-size="6.8" font-weight="bold" text-anchor="middle" fill="#000" textLength="9.600000000000001" lengthAdjust="spacingAndGlyphs"  stroke="#000" stroke-width="0.3">100</text>
<text x="449.7" y="283.3" font-family="'Liberation Serif', serif" font-size="6.8" font-weight="bold" text-anchor="middle" fill="#000" textLength="9.600000000000001" lengthAdjust="spacingAndGlyphs"  stroke="#000" stroke-width="0.3">150</text>
<text x="463.8" y="283.3" font-family="'Liberation Serif', serif" font-size="6.8" font-weight="bold" text-anchor="middle" fill="#000" textLength="9.600000000000001" lengthAdjust="spacingAndGlyphs"  stroke="#000" stroke-width="0.3">250</text>
<text x="481.3" y="283.3" font-family="'Liberation Serif', serif" font-size="6.8" font-weight="bold" text-anchor="middle" fill="#000" textLength="12.8" lengthAdjust="spacingAndGlyphs"  stroke="#000" stroke-width="0.3">1000</text>
<text x="431.2" y="294.0" font-family="'Liberation Serif', serif" font-size="8.6" font-weight="bold" text-anchor="middle" fill="#000" textLength="55" lengthAdjust="spacingAndGlyphs" >[BAG956, nM]</text>
<text x="358.4" y="223.4" font-family="'Liberation Serif', serif" font-size="8.8" font-weight="bold" text-anchor="middle" fill="#000" transform="rotate(-90 358.4 223.4)" textLength="61.5" lengthAdjust="spacingAndGlyphs" >Colony Number</text>
<text x="367.4" y="226.5" font-family="'Liberation Serif', serif" font-size="8.8" font-weight="bold" text-anchor="middle" fill="#000" transform="rotate(-90 367.4 226.5)" textLength="57.5" lengthAdjust="spacingAndGlyphs" >(% of Control)</text>
<text x="224.8" y="314.9" font-family="'Liberation Sans', sans-serif" font-size="11.6" font-weight="bold" text-anchor="start" fill="#000" >F</text>
<line x1="292" y1="317" x2="292" y2="397.7" stroke="#000" stroke-width="1.1" stroke-linecap="butt"/>
<line x1="289.8" y1="397.3" x2="292" y2="397.3" stroke="#000" stroke-width="1" stroke-linecap="butt"/>
<text x="287.8" y="399.3" font-family="'Liberation Sans', sans-serif" font-size="5.6" font-weight="normal" text-anchor="end" fill="#000" textLength="2.35" lengthAdjust="spacingAndGlyphs"  stroke="#000" stroke-width="0.1">0</text>
<line x1="289.8" y1="383.98" x2="292" y2="383.98" stroke="#000" stroke-width="1" stroke-linecap="butt"/>
<text x="287.8" y="385.98" font-family="'Liberation Sans', sans-serif" font-size="5.6" font-weight="normal" text-anchor="end" fill="#000" textLength="2.35" lengthAdjust="spacingAndGlyphs"  stroke="#000" stroke-width="0.1">2</text>
<line x1="289.8" y1="370.66" x2="292" y2="370.66" stroke="#000" stroke-width="1" stroke-linecap="butt"/>
<text x="287.8" y="372.66" font-family="'Liberation Sans', sans-serif" font-size="5.6" font-weight="normal" text-anchor="end" fill="#000" textLength="2.35" lengthAdjust="spacingAndGlyphs"  stroke="#000" stroke-width="0.1">4</text>
<line x1="289.8" y1="357.34000000000003" x2="292" y2="357.34000000000003" stroke="#000" stroke-width="1" stroke-linecap="butt"/>
<text x="287.8" y="359.34000000000003" font-family="'Liberation Sans', sans-serif" font-size="5.6" font-weight="normal" text-anchor="end" fill="#000" textLength="2.35" lengthAdjust="spacingAndGlyphs"  stroke="#000" stroke-width="0.1">6</text>
<line x1="289.8" y1="344.02" x2="292" y2="344.02" stroke="#000" stroke-width="1" stroke-linecap="butt"/>
<text x="287.8" y="346.02" font-family="'Liberation Sans', sans-serif" font-size="5.6" font-weight="normal" text-anchor="end" fill="#000" textLength="2.35" lengthAdjust="spacingAndGlyphs"  stroke="#000" stroke-width="0.1">8</text>
<line x1="289.8" y1="330.70000000000005" x2="292" y2="330.70000000000005" stroke="#000" stroke-width="1" stroke-linecap="butt"/>
<text x="287.8" y="332.70000000000005" font-family="'Liberation Sans', sans-serif" font-size="5.6" font-weight="normal" text-anchor="end" fill="#000" textLength="4.7" lengthAdjust="spacingAndGlyphs"  stroke="#000" stroke-width="0.1">10</text>
<line x1="289.8" y1="317.38" x2="292" y2="317.38" stroke="#000" stroke-width="1" stroke-linecap="butt"/>
<text x="287.8" y="319.38" font-family="'Liberation Sans', sans-serif" font-size="5.6" font-weight="normal" text-anchor="end" fill="#000" textLength="4.7" lengthAdjust="spacingAndGlyphs"  stroke="#000" stroke-width="0.1">12</text>
<line x1="291.5" y1="397.3" x2="415.5" y2="397.3" stroke="#000" stroke-width="1.1" stroke-linecap="butt"/>
<line x1="292.0" y1="397.3" x2="292.0" y2="399.6" stroke="#000" stroke-width="1" stroke-linecap="butt"/>
<line x1="312.45" y1="397.3" x2="312.45" y2="399.6" stroke="#000" stroke-width="1" stroke-linecap="butt"/>
<line x1="332.9" y1="397.3" x2="332.9" y2="399.6" stroke="#000" stroke-width="1" stroke-linecap="butt"/>
<line x1="353.35" y1="397.3" x2="353.35" y2="399.6" stroke="#000" stroke-width="1" stroke-linecap="butt"/>
<line x1="373.8" y1="397.3" x2="373.8" y2="399.6" stroke="#000" stroke-width="1" stroke-linecap="butt"/>
<line x1="394.25" y1="397.3" x2="394.25" y2="399.6" stroke="#000" stroke-width="1" stroke-linecap="butt"/>
<line x1="414.7" y1="397.3" x2="414.7" y2="399.6" stroke="#000" stroke-width="1" stroke-linecap="butt"/>
<rect x="298.80" y="337.36" width="8.00" height="59.94" fill="#9999FF" stroke="#333399" stroke-width="0.6"/>
<rect x="319.00" y="330.70" width="8.00" height="66.60" fill="#9999FF" stroke="#333399" stroke-width="0.6"/>
<rect x="339.50" y="364.00" width="8.00" height="33.30" fill="#9999FF" stroke="#333399" stroke-width="0.6"/>
<rect x="369.00" y="355.20" width="3.00" height="3.00" fill="#8080E0" stroke="#1A1A40" stroke-width="1.0"/>
<text x="375.0" y="359.7" font-family="'Liberation Serif', serif" font-size="8.4" font-weight="bold" text-anchor="start" fill="#000" textLength="24.1" lengthAdjust="spacingAndGlyphs" >AML7</text>
<line x1="382.6" y1="398.8" x2="382.6" y2="406.2" stroke="#000" stroke-width="1" stroke-linecap="butt"/>
<path d="M380.90000000000003 401.6 L382.6 397.4 L384.3 401.6 Z" fill="#000"/>
<line x1="404.4" y1="398.8" x2="404.4" y2="406.2" stroke="#000" stroke-width="1" stroke-linecap="butt"/>
<path d="M402.7 401.6 L404.4 397.4 L406.09999999999997 401.6 Z" fill="#000"/>
<text x="378.0" y="415.3" font-family="'Liberation Serif', serif" font-size="7.4" font-weight="bold" text-anchor="middle" fill="#000" textLength="22.6" lengthAdjust="spacingAndGlyphs"  stroke="#000" stroke-width="0.1">100 nM</text>
<text x="410.2" y="415.3" font-family="'Liberation Serif', serif" font-size="7.4" font-weight="bold" text-anchor="middle" fill="#000" textLength="26.3" lengthAdjust="spacingAndGlyphs"  stroke="#000" stroke-width="0.1">1000 nM</text>
<line x1="300.1" y1="409.9" x2="343.6" y2="409.9" stroke="#000" stroke-width="1.8" stroke-linecap="butt"/>
<line x1="374.1" y1="418.6" x2="417.6" y2="418.6" stroke="#000" stroke-width="2.0" stroke-linecap="butt"/>
<text x="321.9" y="421.0" font-family="'Liberation Serif', serif" font-size="8.6" font-weight="bold" text-anchor="middle" fill="#000" textLength="32" lengthAdjust="spacingAndGlyphs" >Controls</text>
<text x="395.6" y="429.6" font-family="'Liberation Serif', serif" font-size="8.6" font-weight="bold" text-anchor="middle" fill="#000" textLength="31.5" lengthAdjust="spacingAndGlyphs"  stroke="#000" stroke-width="0.15">BAG956</text>
<text x="280.5" y="358.8" font-family="'Liberation Serif', serif" font-size="8.8" font-weight="bold" text-anchor="middle" fill="#000" transform="rotate(-90 280.5 358.8)" textLength="60" lengthAdjust="spacingAndGlyphs" >Colony Number</text>
</svg>
</body></html>
